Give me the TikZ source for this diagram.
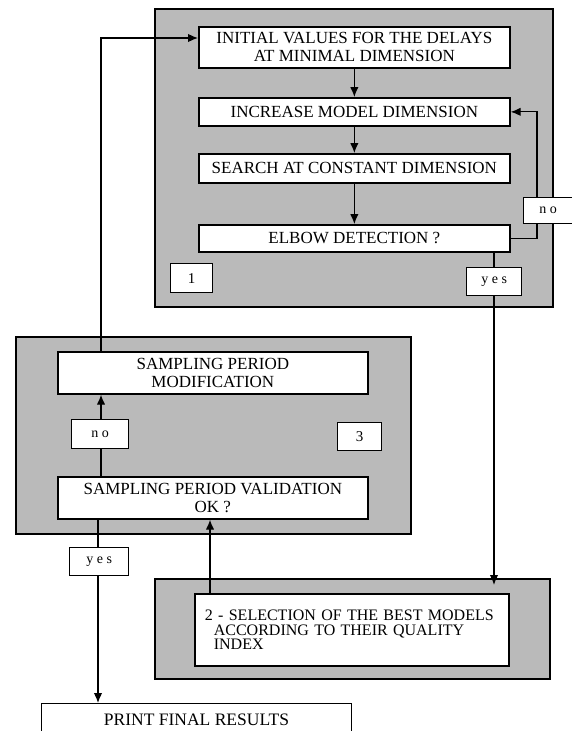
\documentclass[tikz,border=0pt]{standalone}
\usepackage{fontspec}
\setmainfont{Liberation Serif}
\usetikzlibrary{arrows.meta,calc}
\definecolor{panelgray}{gray}{0.73}
\begin{document}
\begin{tikzpicture}[x=1pt,y=-1pt,
  panel/.style={draw=black, line width=1.6pt, fill=panelgray, anchor=north west, inner sep=0pt},
  box/.style={draw=black, line width=1.7pt, fill=white, anchor=north west, inner sep=0pt, align=center, font=\fontsize{17}{18}\selectfont},
  tag/.style={draw=black, line width=1.3pt, fill=white, anchor=north west, inner sep=0pt, font=\fontsize{14}{16}\selectfont},
  arr/.style={line width=1.2pt, -{Latex[length=10pt,width=8.5pt]}},
  conn/.style={line width=1.2pt}]
\fill[white] (0,0) rectangle (572,731);
\useasboundingbox (0,0) rectangle (572,731);

% panels
\node[panel, minimum width=398, minimum height=298] (p1) at (154,8) {};
\node[panel, minimum width=395, minimum height=197] (p3) at (15,336) {};
\node[panel, minimum width=395, minimum height=100] (p2) at (154,578) {};

% panel 1 boxes
\node[box, minimum width=311, minimum height=41] (init) at (198,26) {INITIAL VALUES FOR THE DELAYS\\AT MINIMAL DIMENSION};
\node[box, minimum width=311, minimum height=28] (incr) at (198,97) {INCREASE MODEL DIMENSION};
\node[box, minimum width=311, minimum height=29] (search) at (198,153) {SEARCH AT CONSTANT DIMENSION};
\node[box, minimum width=311, minimum height=27] (elbow) at (198,224) {ELBOW DETECTION ?};
\node[tag, minimum width=42, minimum height=29, font=\fontsize{15}{16}\selectfont] (one) at (170,263) {1};

% panel 3 boxes
\node[box, minimum width=310, minimum height=42] (mod) at (57,351) {SAMPLING PERIOD\\MODIFICATION};
\node[box, minimum width=310, minimum height=42] (valid) at (57,476) {SAMPLING PERIOD VALIDATION\\OK ?};
\node[tag, minimum width=44, minimum height=28, font=\fontsize{15}{16}\selectfont] (three) at (337,422) {3};

% panel 2 box
\node[box, minimum height=72, text width=294, inner xsep=10pt, align=left, font=\fontsize{16}{14.5}\selectfont] (sel) at (194,593)
  {2 - SELECTION OF THE BEST MODELS\\\hspace*{9pt}ACCORDING TO THEIR QUALITY\\\hspace*{9pt}INDEX};

% final box
\node[box, line width=1pt, minimum width=310, minimum height=32, font=\fontsize{17.5}{18}\selectfont] (print) at (41,703) {PRINT FINAL RESULTS};

% connectors
\coordinate (lx) at (101,38);
\coordinate (nx) at (537,0);
\coordinate (ye) at (494,585);
\draw[arr] (lx |- mod.north) -- (lx) -- (init.west |- lx);
\draw[arr] (init.south) -- (incr.north);
\draw[arr] (incr.south) -- (search.north);
\draw[arr] (search.south) -- (elbow.north);
\draw[arr] (elbow.east) -- (elbow.east -| nx) -- (incr.east -| nx) -- (incr.east);
\draw[arr] (elbow.south -| ye) -- (ye);
\draw[arr] (valid.north -| lx) -- (mod.south -| lx);
\draw[arr] ($(sel.north west)+(16,0)$) -- ($(valid.south west)+(153,0)$);
\draw[arr] ($(valid.south west)+(41,0)$) -- ($(print.north west)+(57,0)$);

% tags on connectors
\node[tag, minimum width=49, minimum height=26] (no1) at (523,197) {n o};
\node[tag, minimum width=55, minimum height=28] (yes1) at (466,267) {y e s};
\node[tag, minimum width=57, minimum height=29] (no3) at (71,419) {n o};
\node[tag, minimum width=59, minimum height=28] (yes3) at (69,547) {y e s};
\end{tikzpicture}
\end{document}
